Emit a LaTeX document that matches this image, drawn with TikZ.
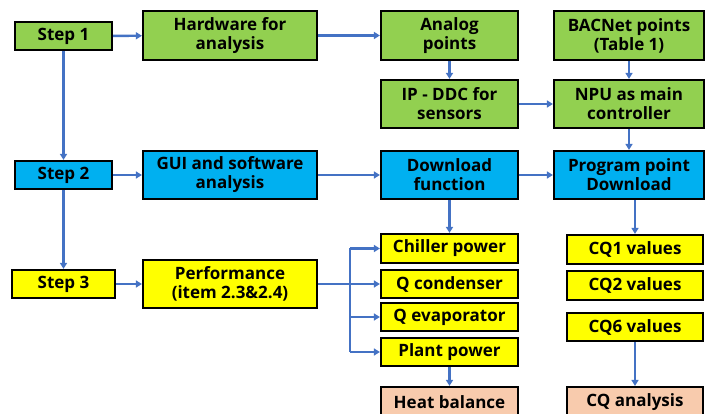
\documentclass[tikz,border=0pt]{standalone}
\usepackage{fontspec}
\setmainfont{Open Sans}
\usetikzlibrary{arrows.meta}
\definecolor{gfill}{HTML}{92D050}
\definecolor{bfill}{HTML}{00B0F0}
\definecolor{yfill}{HTML}{FFFF00}
\definecolor{pfill}{HTML}{F8CBAD}
\definecolor{arrc}{HTML}{4472C4}
\tikzset{
  box/.style={draw=black, line width=2.2pt, inner sep=0pt, align=center,
    font=\fontsize{17}{19}\selectfont\bfseries},
  gbox/.style={box, fill=gfill},
  bbox/.style={box, fill=bfill},
  ybox/.style={box, fill=yfill},
  pbox/.style={box, fill=pfill},
  conn/.style={draw=arrc, line width=2.4pt},
  arr/.style={conn, -{Triangle[length=6pt,width=7pt]}},
}
\begin{document}
\begin{tikzpicture}[x=1pt,y=-1pt]
\clip (0,0) rectangle (710,414);
\fill[white] (0,0) rectangle (710,414);
% step column
\node[gbox, minimum width=97pt, minimum height=28pt] (s1) at (63.5,36) {Step 1};
\node[bbox, minimum width=97pt, minimum height=28pt] (s2) at (63.5,175) {Step 2};
\node[ybox, minimum width=103pt, minimum height=28pt] (s3) at (63.5,284) {Step 3};
% second column
\node[gbox, minimum width=174pt, minimum height=49pt] (hw) at (230,35.5) {Hardware for\\analysis};
\node[bbox, minimum width=174pt, minimum height=48pt] (gui) at (230,175) {GUI and software\\analysis};
\node[ybox, minimum width=174pt, minimum height=48pt] (perf) at (230,284) {Performance\\(item 2.3\&2.4)};
% third column
\node[gbox, minimum width=137pt, minimum height=49pt] (an) at (449.5,35.5) {Analog\\points};
\node[gbox, minimum width=137pt, minimum height=48pt] (ip) at (449.5,104) {IP - DDC for\\sensors};
\node[bbox, minimum width=137pt, minimum height=48pt] (dl) at (449.5,175) {Download\\function};
\node[ybox, minimum width=137pt, minimum height=29pt] (ch) at (449.5,248.5) {Chiller power};
\node[ybox, minimum width=137pt, minimum height=28pt] (qc) at (449.5,284) {Q condenser};
\node[ybox, minimum width=137pt, minimum height=28pt] (qe) at (449.5,317) {Q evaporator};
\node[ybox, minimum width=137pt, minimum height=28pt] (pp) at (449.5,352) {Plant power};
\node[pbox, minimum width=137pt, minimum height=30pt] (hb) at (449.5,402) {Heat balance};
% fourth column
\node[gbox, minimum width=150pt, minimum height=49pt] (bac) at (629,35.5) {BACNet points\\(Table 1)};
\node[gbox, minimum width=150pt, minimum height=48pt] (npu) at (629,104) {NPU as main\\controller};
\node[bbox, minimum width=150pt, minimum height=48pt] (prog) at (629,175) {Program point\\Download};
\node[ybox, minimum width=136pt, minimum height=29pt] (cq1) at (635,249.5) {CQ1 values};
\node[ybox, minimum width=136pt, minimum height=29pt] (cq2) at (635,285.5) {CQ2 values};
\node[ybox, minimum width=136pt, minimum height=28pt] (cq6) at (635,327) {CQ6 values};
\node[pbox, minimum width=136pt, minimum height=30pt] (cqa) at (635,402) {CQ analysis};
% connectors
\draw[arr] (s1) -- (hw);
\draw[arr] (s2) -- (gui);
\draw[arr] (s3) -- (perf);
\draw[arr] (s1) -- (s2);
\draw[arr] (s2) -- (s3);
\draw[arr] (hw) -- (an);
\draw[arr] (gui) -- (dl);
\draw[arr] (an) -- (ip);
\draw[arr] (ip) -- (npu);
\draw[arr] (bac.south -| npu.north) -- (npu);
\draw[arr] (npu) -- (prog);
\draw[arr] (dl) -- (prog);
\draw[arr] (dl) -- (ch);
\draw[arr] (prog.south -| cq1.north) -- (cq1);
\draw[arr] (cq6) -- (cqa);
\draw[arr] (pp) -- (hb);
\coordinate (j) at (350,284);
\draw[conn] (perf.east) -- (j);
\draw[conn] (350,248.5) -- (350,352);
\foreach \n in {ch,qc,qe,pp} \draw[arr] (j |- \n.west) -- (\n.west);
\end{tikzpicture}
\end{document}
